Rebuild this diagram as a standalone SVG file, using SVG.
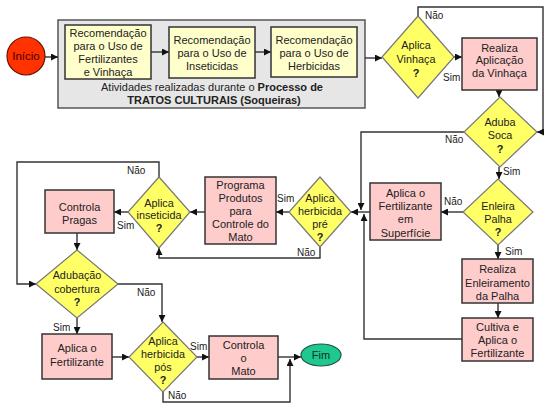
<svg xmlns="http://www.w3.org/2000/svg" width="552" height="410" viewBox="0 0 552 410">
<style>
text{font-family:"Liberation Sans","Noto Sans",sans-serif;font-size:11px;fill:#222;text-anchor:middle}
.dt{font-size:10.8px}
.lbl{font-size:10px;text-anchor:start}
.bold{font-weight:bold;font-size:11px}
.y{fill:#ffffcc;stroke:#333;stroke-width:1.5}
.p{fill:#ffcccc;stroke:#333;stroke-width:1.5}
.d{fill:#ffff66;stroke:#777;stroke-width:1.2}
.c{fill:none;stroke:#333;stroke-width:1.4}
</style>
<defs>
<marker id="ah" viewBox="0 0 8 8" refX="8" refY="4" markerWidth="7" markerHeight="7" markerUnits="userSpaceOnUse" orient="auto">
<path d="M0,0 L8,4 L0,8 z" fill="#111"/>
</marker>
</defs>
<rect width="552" height="410" fill="#fff"/>

<g id="processo">
<rect x="58" y="20" width="307" height="88" fill="#e6e6e6" stroke="#555" stroke-width="1.5"/>
<text x="212" y="91" style="font-size:11px">Atividades realizadas durante o <tspan font-weight="bold">Processo de</tspan></text>
<text x="214" y="104" class="bold">TRATOS CULTURAIS (Soqueiras)</text>
</g>

<g id="connectors">
<path class="c" d="M45,57 H58" marker-end="url(#ah)"/>
<path class="c" d="M151,52 H169" marker-end="url(#ah)"/>
<path class="c" d="M255,52 H271" marker-end="url(#ah)"/>
<path class="c" d="M365,58 H382" marker-end="url(#ah)"/>
<path class="c" d="M454,57 H462" marker-end="url(#ah)"/>
<path class="c" d="M418,16 V7 H543 V132 H537" marker-end="url(#ah)"/>
<path class="c" d="M499,90 V97" marker-end="url(#ah)"/>
<path class="c" d="M464,132 H361 V210" marker-end="url(#ah)"/>
<path class="c" d="M499,167 V179" marker-end="url(#ah)"/>
<path class="c" d="M463,212 H441" marker-end="url(#ah)"/>
<path class="c" d="M370,212 H351" marker-end="url(#ah)"/>
<path class="c" d="M498,245 V259" marker-end="url(#ah)"/>
<path class="c" d="M498,303 V318" marker-end="url(#ah)"/>
<path class="c" d="M462,339 H364 V214" marker-end="url(#ah)"/>
<path class="c" d="M289,212 H276" marker-end="url(#ah)"/>
<path class="c" d="M320,247 V258 H159 V248" marker-end="url(#ah)"/>
<path class="c" d="M205,212 H190" marker-end="url(#ah)"/>
<path class="c" d="M128,212 H114" marker-end="url(#ah)"/>
<path class="c" d="M159,177 V162 H17 V284 H36" marker-end="url(#ah)"/>
<path class="c" d="M77,233 V250" marker-end="url(#ah)"/>
<path class="c" d="M77,318 V334" marker-end="url(#ah)"/>
<path class="c" d="M112,357 H129" marker-end="url(#ah)"/>
<path class="c" d="M118,284 H162 V322" marker-end="url(#ah)"/>
<path class="c" d="M197,357 H209" marker-end="url(#ah)"/>
<path class="c" d="M278,357 H301" marker-end="url(#ah)"/>
<path class="c" d="M163,392 V402 H290 V359" marker-end="url(#ah)"/>
<text class="lbl" x="425" y="19">Não</text>
<text class="lbl" x="443" y="81">Sim</text>
<text class="lbl" x="445" y="143">Não</text>
<text class="lbl" x="503" y="175">Sim</text>
<text class="lbl" x="444" y="205">Não</text>
<text class="lbl" x="505" y="255">Sim</text>
<text class="lbl" x="277" y="202">Sim</text>
<text class="lbl" x="297" y="256">Não</text>
<text class="lbl" x="117" y="229">Sim</text>
<text class="lbl" x="127" y="174">Não</text>
<text class="lbl" x="53" y="331">Sim</text>
<text class="lbl" x="137" y="296">Não</text>
<text class="lbl" x="190" y="350">Sim</text>
<text class="lbl" x="168" y="399">Não</text>
</g>

<g id="inicio">
<circle cx="26" cy="56" r="19" fill="#ff3300" stroke="#661100" stroke-width="1.2"/>
<text x="26" y="60" style="fill:#4a0000;font-size:11.5px">Início</text>
</g>

<g id="rec-fert">
<rect class="y" x="65" y="25" width="86" height="54"/>
<text x="108" y="37">Recomendação</text><text x="108" y="50">para o Uso de</text><text x="108" y="63">Fertilizantes</text><text x="108" y="76">e Vinhaça</text>
</g>
<g id="rec-inset">
<rect class="y" x="169" y="27" width="86" height="51"/>
<text x="212" y="44">Recomendação</text><text x="212" y="57">para o Uso de</text><text x="212" y="70">Inseticidas</text>
</g>
<g id="rec-herb">
<rect class="y" x="271" y="27" width="86" height="50"/>
<text x="314" y="44">Recomendação</text><text x="314" y="57">para o Uso de</text><text x="314" y="70">Herbicidas</text>
</g>

<g id="aplica-vinhaca">
<polygon class="d" points="418,16 454,57 418,98 382,57"/>
<text class="dt" x="416" y="49">Aplica</text><text class="dt" x="416" y="63">Vinhaça</text><text class="dt" x="416" y="77" font-weight="bold">?</text>
</g>
<g id="realiza-vinhaca">
<rect class="p" x="462" y="38" width="75" height="52"/>
<text x="499.5" y="52">Realiza</text><text x="499.5" y="64">Aplicação</text><text x="499.5" y="77">da Vinhaça</text>
</g>
<g id="aduba-soca">
<polygon class="d" points="500,97 537,132 500,167 464,132"/>
<text class="dt" x="500" y="126">Aduba</text><text class="dt" x="500" y="139">Soca</text><text class="dt" x="500" y="153" font-weight="bold">?</text>
</g>
<g id="enleira-palha">
<polygon class="d" points="498,179 533,212 498,245 463,212"/>
<text class="dt" x="498" y="210">Enleira</text><text class="dt" x="498" y="223">Palha</text><text class="dt" x="498" y="236" font-weight="bold">?</text>
</g>
<g id="aplica-superficie">
<rect class="p" x="370" y="183" width="71" height="57"/>
<text x="405.5" y="197">Aplica o</text><text x="405.5" y="210">Fertilizante</text><text x="405.5" y="223">em</text><text x="405.5" y="237">Superfície</text>
</g>
<g id="realiza-enleiramento">
<rect class="p" x="462" y="259" width="71" height="44"/>
<text x="497.5" y="273">Realiza</text><text x="497.5" y="287">Enleiramento</text><text x="497.5" y="300">da Palha</text>
</g>
<g id="cultiva">
<rect class="p" x="462" y="318" width="71" height="43"/>
<text x="497.5" y="331">Cultiva e</text><text x="497.5" y="344">Aplica o</text><text x="497.5" y="357">Fertilizante</text>
</g>
<g id="herbicida-pre">
<polygon class="d" points="320,177 351,212 320,247 289,212"/>
<text class="dt" x="320" y="202">Aplica</text><text class="dt" x="320" y="215">herbicida</text><text class="dt" x="320" y="228">pré</text><text class="dt" x="320" y="241" font-weight="bold">?</text>
</g>
<g id="programa">
<rect class="p" x="205" y="177" width="71" height="67"/>
<text x="240.5" y="189">Programa</text><text x="240.5" y="202">Produtos</text><text x="240.5" y="215">para</text><text x="240.5" y="228">Controle do</text><text x="240.5" y="241">Mato</text>
</g>
<g id="inseticida">
<polygon class="d" points="159,177 190,212 159,248 128,212"/>
<text class="dt" x="159" y="207">Aplica</text><text class="dt" x="159" y="219">inseticida</text><text class="dt" x="159" y="232" font-weight="bold">?</text>
</g>
<g id="controla-pragas">
<rect class="p" x="45" y="190" width="69" height="43"/>
<text x="79.5" y="211">Controla</text><text x="79.5" y="224">Pragas</text>
</g>
<g id="adubacao">
<polygon class="d" points="77,250 118,284 77,318 36,284"/>
<text class="dt" x="77" y="279">Adubação</text><text class="dt" x="77" y="293">cobertura</text><text class="dt" x="77" y="306" font-weight="bold">?</text>
</g>
<g id="aplica-fert">
<rect class="p" x="42" y="334" width="70" height="45"/>
<text x="77" y="352">Aplica o</text><text x="77" y="366">Fertilizante</text>
</g>
<g id="herbicida-pos">
<polygon class="d" points="163,322 197,357 163,392 129,357"/>
<text class="dt" x="163" y="345">Aplica</text><text class="dt" x="163" y="358">herbicida</text><text class="dt" x="163" y="371">pós</text><text class="dt" x="163" y="384" font-weight="bold">?</text>
</g>
<g id="controla-mato">
<rect class="p" x="209" y="336" width="69" height="43"/>
<text x="243.5" y="349">Controla</text><text x="243.5" y="362">o</text><text x="243.5" y="375">Mato</text>
</g>
<g id="fim">
<ellipse cx="321" cy="355" rx="20" ry="11" fill="#1fc88e" stroke="#225544" stroke-width="1.2"/>
<text x="321" y="359" style="fill:#0a3322">Fim</text>
</g>
</svg>
